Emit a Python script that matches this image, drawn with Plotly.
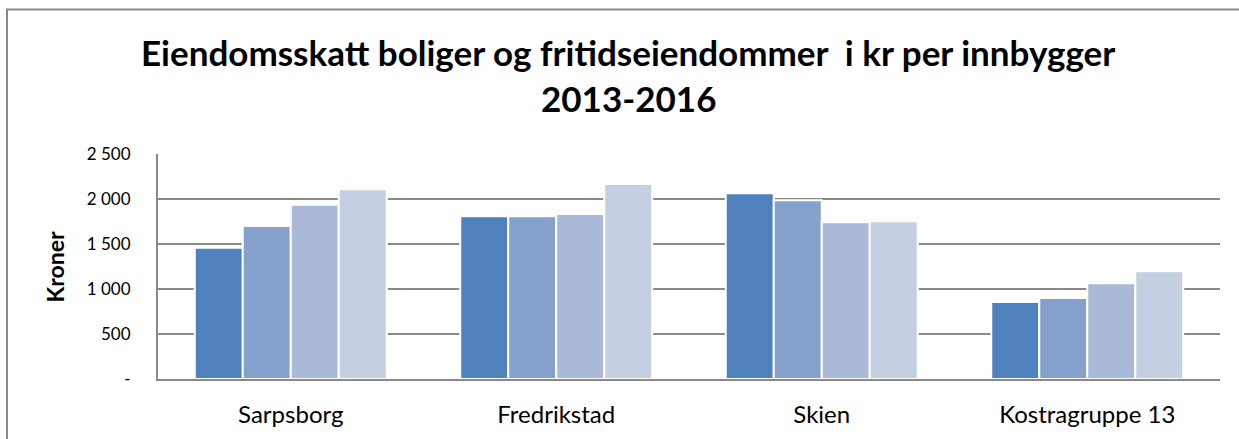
import plotly.graph_objects as go

categories = ["Sarpsborg", "Fredrikstad", "Skien", "Kostragruppe 13"]
years = ["2013", "2014", "2015", "2016"]
values_2013 = [1459, 1807, 2063, 855]
values_2014 = [1700, 1807, 1985, 900]
values_2015 = [1937, 1833, 1741, 1063]
values_2016 = [2107, 2167, 1752, 1196]
series_values = [values_2013, values_2014, values_2015, values_2016]
colors = ["#4F81BD", "#84A0CB", "#AAB9D8", "#C4CFE2"]
tick_vals = [0, 500, 1000, 1500, 2000, 2500]
tick_text = ["-", "500", "1 000", "1 500", "2 000", "2 500"]
title_line1 = "Eiendomsskatt boliger og fritidseiendommer  i kr per innbygger"
title_line2 = "2013-2016"
y_title = "Kroner"

FONT = "Lato"
GRID = "#898989"

fig = go.Figure()
for yr, vals, col in zip(years, series_values, colors):
    fig.add_trace(go.Bar(
        name=yr, x=categories, y=vals,
        marker=dict(color=col, line=dict(color="white", width=2)),
    ))

fig.update_layout(
    width=1239, height=439,
    margin=dict(l=158, r=19, t=154, b=60),
    paper_bgcolor="white", plot_bgcolor="white",
    barmode="group", bargap=0.277, bargroupgap=0,
    showlegend=False,
    font=dict(family=FONT, color="black"),
)
fig.update_xaxes(
    showline=True, linecolor=GRID, linewidth=2,
    showgrid=False, ticks="",
    tickfont=dict(family=FONT, size=24, color="black"),
    ticklabelstandoff=13,
)
fig.update_yaxes(
    range=[0, 2500], tickvals=tick_vals, ticktext=tick_text,
    showgrid=True, gridcolor=GRID, gridwidth=1.5,
    showline=True, linecolor=GRID, linewidth=2,
    zeroline=False, ticks="",
    tickfont=dict(family=FONT, size=17, color="black"),
    ticklabelstandoff=22,
)

fig.add_annotation(text="<b>" + title_line1 + "</b>", xref="paper", yref="paper",
                   x=0.4426, y=1.455, xanchor="center", yanchor="middle",
                   showarrow=False, font=dict(family=FONT, size=35, color="black"))
fig.add_annotation(text="<b>" + title_line2 + "</b>", xref="paper", yref="paper",
                   x=0.4426, y=1.25, xanchor="center", yanchor="middle",
                   showarrow=False, font=dict(family=FONT, size=35, color="black"))
fig.add_annotation(text="<b>" + y_title + "</b>", xref="paper", yref="paper",
                   x=-0.097, y=0.5, xanchor="center", yanchor="middle", textangle=-90,
                   showarrow=False, font=dict(family=FONT, size=23, color="black"))

# outer chart border
fig.add_shape(type="rect", xref="paper", yref="paper",
              x0=(7 - 158) / 1062, x1=1.2,
              y0=-0.5, y1=(379 - 9.5) / 225,
              line=dict(color=GRID, width=2), fillcolor="rgba(0,0,0,0)", layer="below")

fig.write_html(
    "out.html",
    config={"displayModeBar": False},
    post_script="document.body.style.margin='0';document.body.style.overflow='hidden';",
)
